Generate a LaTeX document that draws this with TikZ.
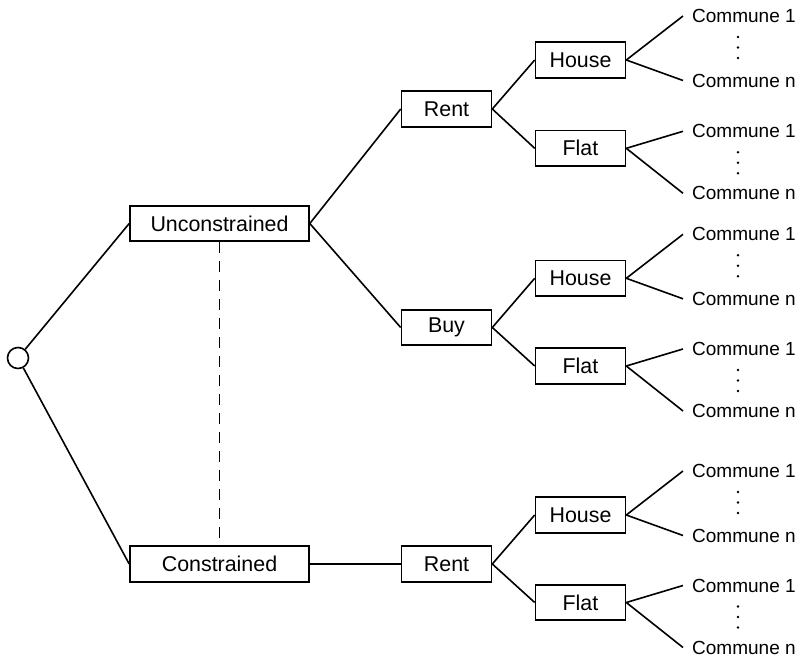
\documentclass[tikz,border=0pt]{standalone}
\usepackage{fontspec}
\setmainfont{Liberation Sans}
\begin{document}
\begin{tikzpicture}[x=1pt,y=-1pt,
  box/.style={draw, line width=1.6pt, minimum height=35.5pt, inner sep=0pt, font=\fontsize{21.4}{25}\selectfont},
  widebox/.style={box, minimum width=179pt},
  midbox/.style={box, minimum width=90pt},
  commune/.style={anchor=west, inner xsep=9pt, inner ysep=0pt, font=\fontsize{19}{22}\selectfont},
  edge/.style={line width=1.6pt},
  vdot/.style={circle, fill, inner sep=0pt, minimum size=2.8pt}
]
\useasboundingbox (0,0) rectangle (798,660);
% root
\node[circle, draw, line width=1.6pt, minimum size=21pt, inner sep=0pt] (root) at (18,358) {};
% first level
\node[widebox] (U) at (219.5,223.5) {Unconstrained};
\node[widebox] (C) at (219.5,564) {Constrained};
% second level
\node[midbox] (R1) at (446.5,109) {Rent};
\node[midbox] (B) at (446.5,327.5) {Buy};
\node[midbox] (R2) at (446.5,564) {Rent};
% third level
\node[midbox] (H1) at (580.5,60) {House};
\node[midbox] (F1) at (580.5,148.3) {Flat};
\node[midbox] (H2) at (580.5,278.3) {House};
\node[midbox] (F2) at (580.5,366) {Flat};
\node[midbox] (H3) at (580.5,515) {House};
\node[midbox] (F3) at (580.5,602.5) {Flat};
% connectors
\draw[edge] (root) -- (U.west);
\draw[edge] (root) -- (C.west);
\draw[line width=1.6pt, dash pattern=on 11pt off 8pt] (U.south) -- (C.north);
\draw[edge] (U.east) -- (R1.west);
\draw[edge] (U.east) -- (B.west);
\draw[edge] (C.east) -- (R2.west);
\draw[edge] (R1.east) -- (H1.west);
\draw[edge] (R1.east) -- (F1.west);
\draw[edge] (B.east) -- (H2.west);
\draw[edge] (B.east) -- (F2.west);
\draw[edge] (R2.east) -- (H3.west);
\draw[edge] (R2.east) -- (F3.west);
% communes for houses
\foreach \n/\y in {H1/60, H2/278.3, H3/515} {
  \node[commune] (\n-a) at (683,\y-44) {Commune 1};
  \node[commune] (\n-b) at (683,\y+20.5) {Commune n};
  \draw[edge] (\n.east) -- (\n-a.west);
  \draw[edge] (\n.east) -- (\n-b.west);
  \foreach \k [count=\i] in {-23,-12.5,-2}
    \node[vdot] (\n-d\i) at (738,\y+\k) {};
}
% communes for flats
\foreach \n/\y in {F1/148.3, F2/366, F3/602.5} {
  \node[commune] (\n-a) at (683,\y-17) {Commune 1};
  \node[commune] (\n-b) at (683,\y+45) {Commune n};
  \draw[edge] (\n.east) -- (\n-a.west);
  \draw[edge] (\n.east) -- (\n-b.west);
  \foreach \k [count=\i] in {4,14.5,25}
    \node[vdot] (\n-d\i) at (738,\y+\k) {};
}
\end{tikzpicture}
\end{document}
